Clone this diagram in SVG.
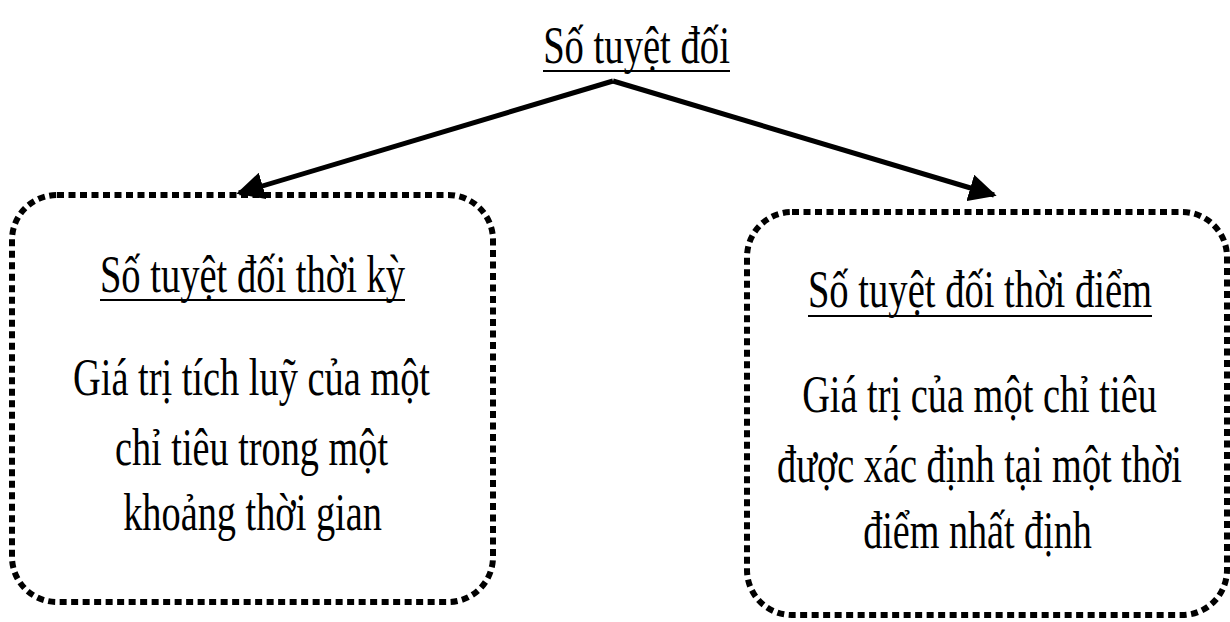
<svg xmlns="http://www.w3.org/2000/svg" width="1230" height="622" viewBox="0 0 1230 622">
  <style>
    .t { font-family: "Liberation Serif", "Times New Roman", serif; font-size: 53px; fill: #000; text-anchor: middle; }
    .ul { stroke: #000; stroke-width: 2; }
    .box { fill: none; stroke: #000; stroke-width: 6; stroke-dasharray: 7 4.5; }
    .conn { stroke: #000; stroke-width: 5; fill: none; }
  </style>
  <defs>
    <marker id="arrow" viewBox="0 0 10 10" refX="9" refY="5" markerWidth="5.5" markerHeight="5.5" orient="auto" markerUnits="strokeWidth">
      <path d="M0,0 L10,5 L0,10 Z" fill="#000"/>
    </marker>
  </defs>

  <rect width="1230" height="622" fill="#fff"/>

  <!-- narrow serif lettering: each line is squeezed horizontally about its centre -->
  <g id="root">
    <text class="t" transform="translate(636.5,63) scale(0.75,1)" textLength="249" lengthAdjust="spacingAndGlyphs">Số tuyệt đối</text>
    <line class="ul" x1="543" y1="71" x2="730" y2="71"/>
  </g>

  <g id="connectors">
    <path class="conn" d="M613,81 L239,193" marker-end="url(#arrow)"/>
    <path class="conn" d="M613,81 L994,195" marker-end="url(#arrow)"/>
  </g>

  <g id="period">
    <rect class="box" x="12" y="195" width="481" height="407" rx="45" ry="45"/>
    <text class="t" transform="translate(252.5,292) scale(0.75,1)" textLength="407" lengthAdjust="spacingAndGlyphs">Số tuyệt đối thời kỳ</text>
    <line class="ul" x1="100" y1="300" x2="405" y2="300"/>
    <text class="t" transform="translate(251.5,395) scale(0.75,1)" textLength="476" lengthAdjust="spacingAndGlyphs">Giá trị tích luỹ của một</text>
    <text class="t" transform="translate(251.5,465) scale(0.75,1)" textLength="364" lengthAdjust="spacingAndGlyphs">chỉ tiêu trong một</text>
    <text class="t" transform="translate(252.5,530) scale(0.75,1)" textLength="345" lengthAdjust="spacingAndGlyphs">khoảng thời gian</text>
  </g>

  <g id="point">
    <rect class="box" x="747" y="212" width="480" height="403" rx="45" ry="45"/>
    <text class="t" transform="translate(980,307) scale(0.75,1)" textLength="459" lengthAdjust="spacingAndGlyphs">Số tuyệt đối thời điểm</text>
    <line class="ul" x1="808" y1="316" x2="1152" y2="316"/>
    <text class="t" transform="translate(979.5,412) scale(0.75,1)" textLength="473" lengthAdjust="spacingAndGlyphs">Giá trị của một chỉ tiêu</text>
    <text class="t" transform="translate(979.5,482) scale(0.75,1)" textLength="540" lengthAdjust="spacingAndGlyphs">được xác định tại một thời</text>
    <text class="t" transform="translate(977.5,548) scale(0.75,1)" textLength="305" lengthAdjust="spacingAndGlyphs">điểm nhất định</text>
  </g>
</svg>
